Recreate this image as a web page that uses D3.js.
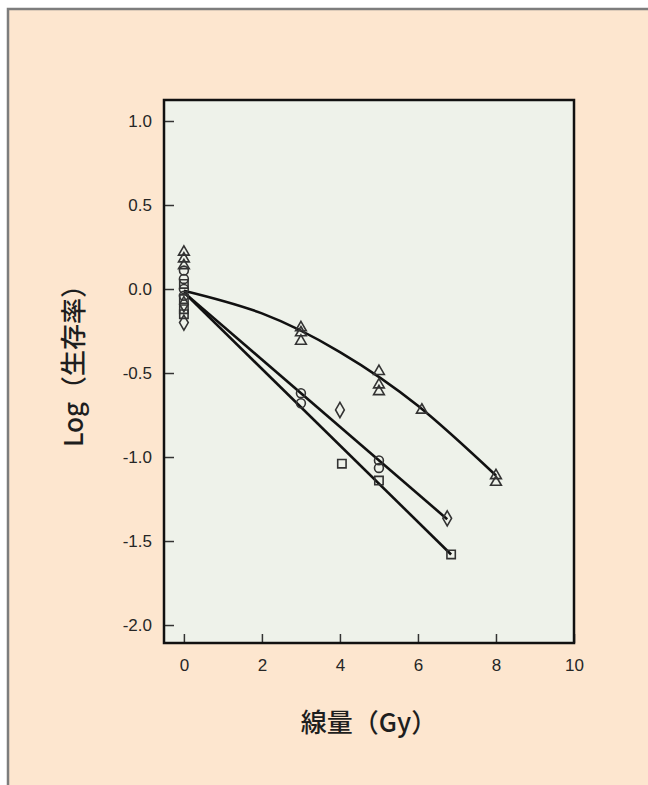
<!DOCTYPE html>
<html lang="ja">
<head>
<meta charset="utf-8">
<title>線量と生存率</title>
<style>
  html, body { margin: 0; padding: 0; background: #fff; }
  svg { display: block; }
</style>
</head>
<body>
<svg id="chart" width="648" height="785"></svg>
<script src="https://d3js.org/d3.v7.min.js"></script>
<script>
// 軸の目盛
var xTicks = [0, 2, 4, 6, 8, 10];
var yTicks = [1.0, 0.5, 0.0, -0.5, -1.0, -1.5, -2.0];

// 測定値 [線量, log生存率]
var triangles = [[0, 0.22], [0, 0.18], [0, 0.14], [3, -0.23], [3, -0.26], [3, -0.31],
                 [5, -0.49], [5, -0.57], [5, -0.61], [6.1, -0.72], [8, -1.11], [8, -1.15]];
var circles   = [[0, 0.11], [0, 0.06], [0, 0.0], [0, -0.04], [3, -0.62], [3, -0.68],
                 [5, -1.02], [5, -1.065]];
var diamonds  = [[0, -0.09], [0, -0.2], [4, -0.72], [6.75, -1.365]];
var squares   = [[0, 0.03], [0, -0.06], [0, -0.12], [0, -0.15], [4.05, -1.04],
                 [5, -1.14], [6.85, -1.58]];

// 近似曲線
var curveTri = [[0, -0.01], [2, -0.145], [4, -0.375], [6, -0.695], [8, -1.11]];
var lineMid  = [[0, -0.02], [6.75, -1.37]];
var lineLow  = [[0, -0.02], [6.85, -1.58]];

var svg = d3.select('#chart');

// 外枠
svg.append('rect')
    .attr('x', 8).attr('y', 9)
    .attr('width', 660).attr('height', 800)
    .attr('fill', '#fde6cf')
    .attr('stroke', '#7d7d7d')
    .attr('stroke-width', 2.5);

var plot = {left: 164, right: 574, top: 100, bottom: 643};

var x = d3.scaleLinear().domain([-0.51, 10]).range([plot.left, plot.right]);
var y = d3.scaleLinear().domain([-2.107, 1.125]).range([plot.bottom, plot.top]);

// プロット領域
svg.append('rect')
    .attr('x', plot.left).attr('y', plot.top)
    .attr('width', plot.right - plot.left)
    .attr('height', plot.bottom - plot.top)
    .attr('fill', '#eef2ea');

var numFont = '"Liberation Sans", Arial, sans-serif';

// y軸
var gy = svg.append('g')
    .attr('transform', 'translate(' + plot.left + ',0)')
    .call(d3.axisLeft(y).tickValues(yTicks).tickSize(6).tickSizeOuter(0));
gy.select('.domain').remove();
gy.selectAll('.tick line').attr('x2', 10).attr('stroke', '#333').attr('stroke-width', 1.5);
gy.selectAll('.tick text')
    .attr('x', -12)
    .attr('font-family', numFont)
    .attr('font-size', 17)
    .attr('fill', '#262626')
    .text(function(d) { return d3.format('.1f')(d).replace('−', '-'); });

// x軸
var gx = svg.append('g')
    .attr('transform', 'translate(0,' + plot.bottom + ')')
    .call(d3.axisBottom(x).tickValues(xTicks).tickSize(0).tickPadding(16));
gx.select('.domain').remove();
gx.selectAll('.tick line').attr('y2', -9).attr('stroke', '#333').attr('stroke-width', 1.5);
gx.selectAll('.tick text')
    .attr('font-family', numFont)
    .attr('font-size', 17)
    .attr('fill', '#262626');

// 曲線
var lineGen = d3.line()
    .x(function(d) { return x(d[0]); })
    .y(function(d) { return y(d[1]); });

svg.append('path').datum(curveTri)
    .attr('d', lineGen.curve(d3.curveNatural))
    .attr('fill', 'none').attr('stroke', '#111').attr('stroke-width', 2.6);
[lineMid, lineLow].forEach(function(l) {
    svg.append('path').datum(l)
        .attr('d', lineGen.curve(d3.curveLinear))
        .attr('fill', 'none').attr('stroke', '#111').attr('stroke-width', 2.6);
});

// 記号
var series = [
    {data: triangles, type: d3.symbolTriangle, size: 50},
    {data: circles, type: d3.symbolCircle, size: 62},
    {data: diamonds, type: d3.symbolDiamond, size: 66},
    {data: squares, type: d3.symbolSquare, size: 70}
];
series.forEach(function(s) {
    svg.append('g').selectAll('path')
        .data(s.data)
        .enter()
        .append('path')
        .attr('d', d3.symbol().type(s.type).size(s.size))
        .attr('transform', function(d) { return 'translate(' + x(d[0]) + ',' + y(d[1]) + ')'; })
        .attr('fill', 'none')
        .attr('stroke', '#333')
        .attr('stroke-width', 1.6);
});

// 枠線
svg.append('rect')
    .attr('x', plot.left).attr('y', plot.top)
    .attr('width', plot.right - plot.left)
    .attr('height', plot.bottom - plot.top)
    .attr('fill', 'none')
    .attr('stroke', '#111')
    .attr('stroke-width', 2.5);

// 軸ラベル
var cjkFont = '"Noto Sans CJK JP", "Noto Sans", sans-serif';
svg.append('text')
    .attr('x', (plot.left + plot.right) / 2)
    .attr('y', 732)
    .attr('text-anchor', 'middle')
    .attr('font-family', cjkFont)
    .attr('font-size', 26)
    .attr('font-weight', 500)
    .attr('fill', '#1e1e1e')
    .text('線量（Gy）');

svg.append('text')
    .attr('transform', 'translate(83,' + ((plot.top + plot.bottom) / 2 - 12) + ') rotate(-90)')
    .attr('text-anchor', 'middle')
    .attr('font-family', cjkFont)
    .attr('font-size', 26)
    .attr('font-weight', 500)
    .attr('fill', '#1e1e1e')
    .text('Log（生存率）');
</script>
</body>
</html>
